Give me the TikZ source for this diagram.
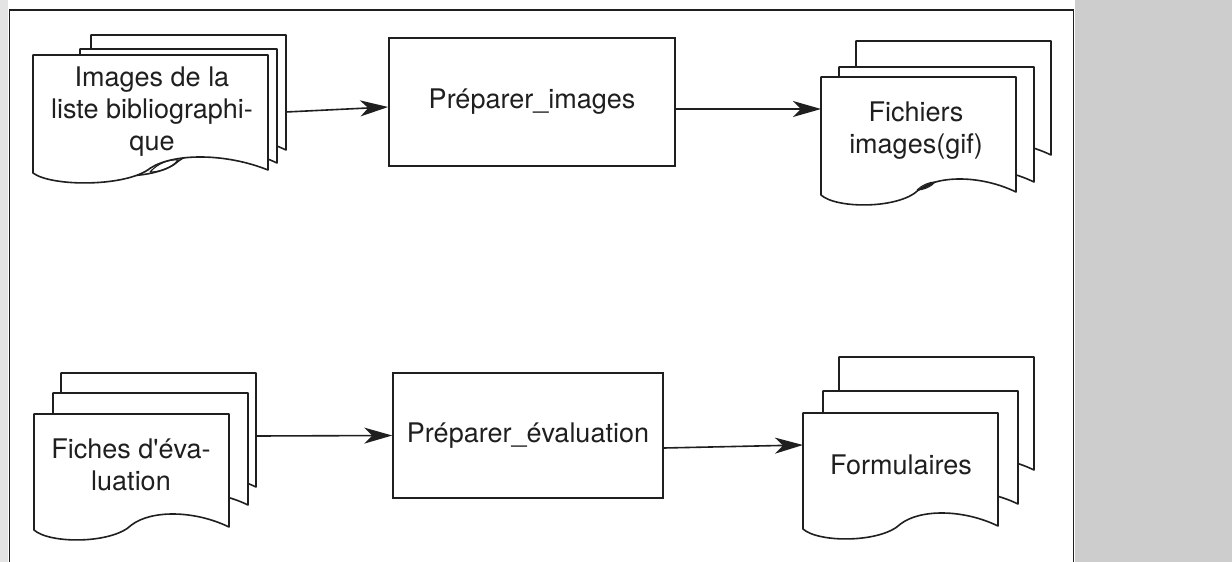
\documentclass[tikz,border=0pt]{standalone}
\usepackage{fontspec}
\newfontfamily\heros{TeX Gyre Heros}
\usetikzlibrary{arrows.meta}
\definecolor{ink}{rgb}{0.12,0.12,0.12}
\definecolor{screen}{RGB}{205,205,205}
\definecolor{strip}{RGB}{228,228,228}
\tikzset{
  line/.style={draw=ink, line width=1.6pt},
  sheet/.style={line, fill=white, line join=round},
  label/.style={font=\heros\fontsize{27}{32}\selectfont, text=ink, align=center},
  procbox/.style={line, fill=white, rectangle, inner sep=0pt, label},
  flow/.style={line, -{Stealth[length=28pt,width=16pt,inset=8pt]}},
  lens/.style={draw=ink, line width=1.1pt},
}
\newcommand\docsheet[4]{%
  \path[sheet] (#1,#2) -- (#3,#2) -- (#3,#4)
   .. controls ({#1+0.82*(#3-#1)},{#4-17}) and ({#1+0.6*(#3-#1)},{#4-17}) .. ({#1+0.5*(#3-#1)},{#4-2})
   .. controls ({#1+0.4*(#3-#1)},{#4+17}) and ({#1+0.08*(#3-#1)},{#4+17}) .. (#1,{#4+3}) -- cycle;}
\begin{document}
\begin{tikzpicture}[x=1pt,y=-1pt]
\useasboundingbox (0,0) rectangle (1232,562);
\fill[white] (0,0) rectangle (1232,562);
\fill[strip] (0,0) rectangle (8,562);
\fill[screen] (1075,0) rectangle (1232,562);
\draw[line, line width=1.9pt] (9.5,562) -- (9.5,10) -- (1073.5,10) -- (1073.5,562);

% document stack 1
\docsheet{91}{35}{286}{150}
\docsheet{80}{49}{277}{163}
\docsheet{33}{55}{268}{170}
\draw[lens] (150,172) .. controls (158,163) and (170,159) .. (178,160) .. controls (172,168) and (160,172) .. (150,172);
\node[label] (d1) at (152,112) {Images de la\\liste bibliographi-\\que};

% document stack 2
\docsheet{856}{41}{1051}{155}
\docsheet{839}{67}{1034}{182}
\docsheet{821}{77}{1016}{192}
\draw[lens] (917,190) .. controls (922,185) and (930,182) .. (935,182) .. controls (931,187) and (923,190) .. (917,190);
\node[label] (d2) at (916,131) {Fichiers\\images(gif)};

% document stack 3
\docsheet{61}{373}{256}{487}
\docsheet{53}{393}{248}{505}
\docsheet{34}{414}{229}{527}
\node[label] (d3) at (131,465) {Fiches d'éva-\\luation};

% document stack 4
\docsheet{839}{357}{1034}{470}
\docsheet{823}{391}{1018}{504}
\docsheet{803}{413}{998}{526}
\node[label] (d4) at (901,465) {Formulaires};

% processes
\node[procbox, minimum width=286pt, minimum height=128pt] (b1) at (532,102) {Préparer\_images};
\node[procbox, minimum width=270pt, minimum height=125pt] (b2) at (528,435.5) {Préparer\_évaluation};

% connectors
\coordinate (d1out) at (286,112);
\coordinate (d2in) at (821,109);
\coordinate (d3out) at (256,436);
\coordinate (d4in) at (803,445);
\draw[flow] (d1out) -- ([yshift=-5pt]b1.west);
\draw[flow] ([yshift=-7pt]b1.east) -- (d2in);
\draw[flow] (d3out) -- (b2.west);
\draw[flow] ([yshift=-12.5pt]b2.east) -- (d4in);
\end{tikzpicture}
\end{document}
